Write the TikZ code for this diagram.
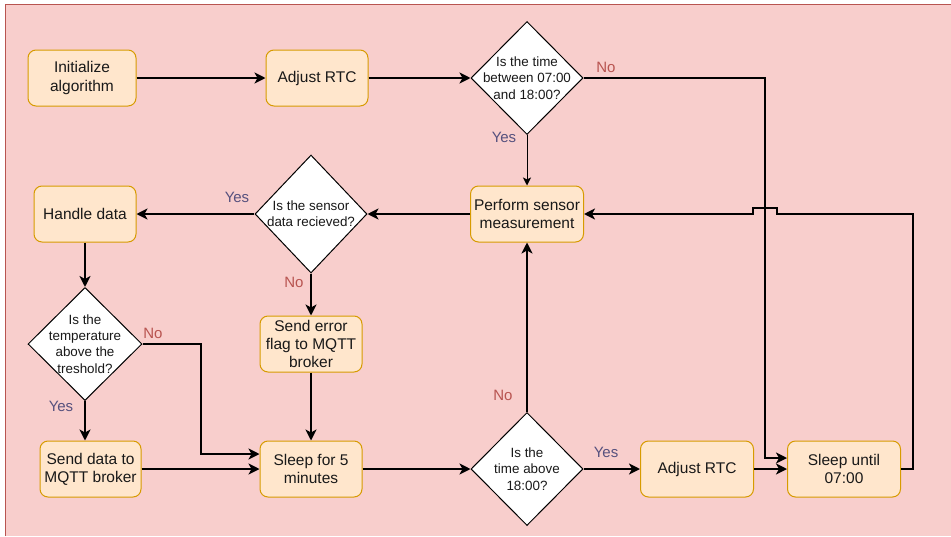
\documentclass[tikz,border=0pt]{standalone}
\usepackage{fontspec}
\setmainfont{Liberation Sans}
\usetikzlibrary{shapes.geometric,arrows.meta}
\definecolor{bgpink}{HTML}{F8CECC}
\definecolor{bgred}{HTML}{B85450}
\definecolor{boxfill}{HTML}{FFE6CC}
\definecolor{boxdraw}{HTML}{D79B00}
\definecolor{yescol}{HTML}{56517E}
\definecolor{nocol}{HTML}{B85450}
\begin{document}
\begin{tikzpicture}[x=1pt,y=-1pt,
 proc/.style={draw=boxdraw, fill=boxfill, rounded corners=8pt, line width=1pt, align=center,
   font=\fontsize{15.5}{18.3}\selectfont, inner sep=0pt, minimum height=56pt, text=black!90},
 dec/.style={diamond, draw=black, fill=white, line width=1pt, inner sep=0pt,
   minimum width=112pt, minimum height=113pt},
 dtext/.style={align=center, font=\fontsize{13.4}{16.3}\selectfont, inner sep=0pt, text=black!90},
 flow/.style={line width=2pt, -{Stealth[length=11pt,width=11pt,inset=3pt]}},
 thinflow/.style={line width=1pt, -{Stealth[length=8pt,width=8pt,inset=2pt]}},
 yeslbl/.style={text=yescol, font=\fontsize{15}{18}\selectfont, inner sep=0pt},
 nolbl/.style={text=nocol, font=\fontsize{15}{18}\selectfont, inner sep=0pt}
]
\useasboundingbox (0,0) rectangle (951,536);
\fill[bgpink] (5,4) rectangle (951,536);
\draw[bgred, line width=1pt] (5,536) -- (5,4) -- (951,4);

% process boxes
\node[proc, minimum width=108pt] (init) at (82,78) {Initialize\\algorithm};
\node[proc, minimum width=102pt] (rtc1) at (317,78) {Adjust RTC};
\node[proc, minimum width=113pt] (perf) at (527,214) {Perform sensor\\measurement};
\node[proc, minimum width=102pt] (hd) at (85,214) {Handle data};
\node[proc, minimum width=102pt] (err) at (311,344) {Send error\\flag to MQTT\\broker};
\node[proc, minimum width=101pt] (sd) at (90.5,469) {Send data to\\MQTT broker};
\node[proc, minimum width=102pt] (sl5) at (311,469) {Sleep for 5\\minutes};
\node[proc, minimum width=113pt] (rtc2) at (697,469) {Adjust RTC};
\node[proc, minimum width=113pt] (sleep) at (844,469) {Sleep until\\07:00};

% decisions
\node[dec] (d1) at (527,78) {};
\node[dtext] (t1) at (d1) {Is the time\\between 07:00\\and 18:00?};
\node[dec, minimum height=118pt] (d2) at (311,214) {};
\node[dtext] (t2) at (d2) {Is the sensor\\data recieved?};
\node[dec, minimum width=114pt] (d3) at (85,344) {};
\node[dtext] (t3) at (d3) {Is the\\temperature\\above the\\treshold?};
\node[dec] (d4) at (527,469) {};
\node[dtext] (t4) at (d4) {Is the\\time above\\18:00?};

% connectors
\draw[flow] (init) -- (rtc1);
\draw[flow] (rtc1) -- (d1);
\draw[thinflow] (d1) -- (perf);
\draw[flow] (d1.east) -- (765,78) -- (765,458) -- ([yshift=11pt]sleep.west);
\draw[flow] (rtc2) -- (sleep);
\draw[flow] (sleep.east) -- (913,469) -- (913,214) -- (777,214) -- (777,208) -- (753,208) -- (753,214) -- (perf.east);
\draw[flow] (perf) -- (d2);
\draw[flow] (d2) -- (hd);
\draw[flow] (d2) -- (err);
\draw[flow] (hd) -- (d3);
\draw[flow] (d3.east) -- (201,344) -- (201,454) -- ([yshift=15pt]sl5.west);
\draw[flow] (d3.south) -- (d3.south |- sd.north);
\draw[flow] (sd) -- (sl5);
\draw[flow] (err) -- (sl5);
\draw[flow] (sl5) -- (d4);
\draw[flow] (d4) -- (perf);
\draw[flow] (d4) -- (rtc2);

% labels
\node[yeslbl] (l1) at (504,137) {Yes};
\node[nolbl] (l2) at (606,67) {No};
\node[yeslbl] (l3) at (237,197) {Yes};
\node[nolbl] (l4) at (294,282) {No};
\node[nolbl] (l5) at (153,333) {No};
\node[yeslbl] (l6) at (61,406) {Yes};
\node[nolbl] (l7) at (503,395) {No};
\node[yeslbl] (l8) at (606,452) {Yes};
\end{tikzpicture}
\end{document}
